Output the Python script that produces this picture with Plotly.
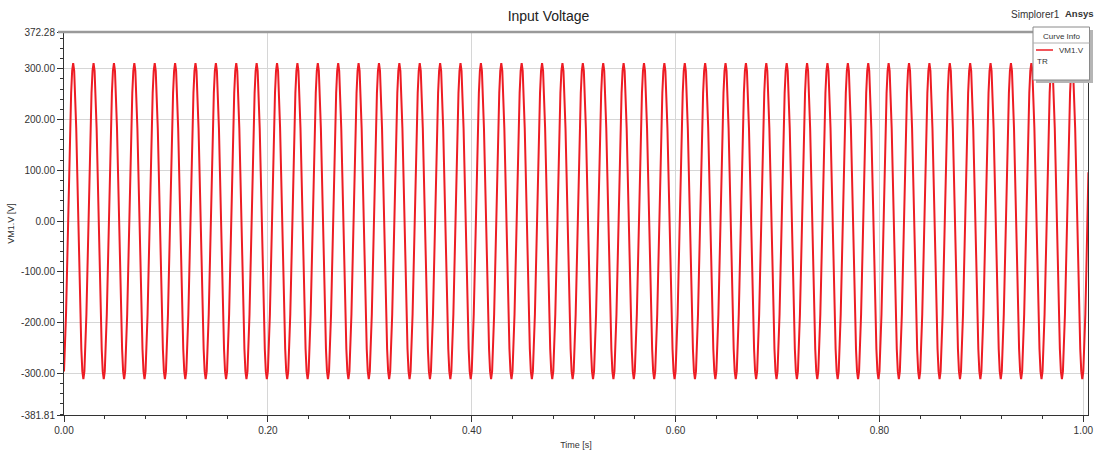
import numpy as np
import plotly.graph_objects as go

# ---- data ----
# one 20 ms cycle of VM1.V sampled every 1 ms (peak ~311 V at t≈9 ms)
cycle_values = [-296, -252, -183, -96, 0, 96, 183, 252, 296, 311,
                296, 252, 183, 96, 0, -96, -183, -252, -296, -311]
sample_step_s = 0.001
t_end_s = 1.005
y_tick_vals = [-381.81, -300, -200, -100, 0, 100, 200, 300, 372.28]
y_tick_text = ["-381.81", "-300.00", "-200.00", "-100.00", "0.00",
               "100.00", "200.00", "300.00", "372.28"]
x_tick_vals = [0.0, 0.2, 0.4, 0.6, 0.8, 1.0]
x_tick_text = ["0.00", "0.20", "0.40", "0.60", "0.80", "1.00"]
x_range = [0.0, 1.0046]
y_range = [-381.81, 372.28]

n = int(round(t_end_s / sample_step_s)) + 1
reps = n // len(cycle_values) + 1
v = np.tile(np.array(cycle_values, dtype=float), reps)[:n]
t = np.arange(n) * sample_step_s

FONT = "Liberation Sans, Arial, sans-serif"
TXT = "#333333"

fig = go.Figure()
fig.add_trace(go.Scatter(x=t, y=v, mode="lines", name="VM1.V",
                         line=dict(color="rgb(237,28,36)", width=2),
                         showlegend=False))

# plot area pixel geometry
L, R, T, B = 64, 1088, 32, 415
W, H = R - L, B - T
def px(x):
    return (x - L) / W
def py(y):
    return (B - y) / H

shapes = [
    # top border (gray, thick)
    dict(type="line", xref="paper", yref="paper", x0=px(58), x1=1, y0=1, y1=1,
         line=dict(color="#9a9a9a", width=2.5)),
    # legend shadow
    dict(type="rect", xref="paper", yref="paper", x0=px(1036), x1=px(1093),
         y0=py(83), y1=py(30), fillcolor="#b5b5b5", line=dict(width=0)),
    # legend box
    dict(type="rect", xref="paper", yref="paper", x0=px(1033), x1=px(1089.5),
         y0=py(80), y1=py(27), fillcolor="white", line=dict(color="#8a8a8a", width=1)),
    # separator
    dict(type="line", xref="paper", yref="paper", x0=px(1033), x1=px(1089.5),
         y0=py(43), y1=py(43), line=dict(color="#b0b0b0", width=1)),
    # legend sample line
    dict(type="line", xref="paper", yref="paper", x0=px(1036), x1=px(1053),
         y0=py(50), y1=py(50), line=dict(color="rgb(237,28,36)", width=1.5)),
]

annotations = [
    dict(text="Curve Info", xref="paper", yref="paper", x=px(1061), y=py(36),
         showarrow=False, font=dict(family=FONT, size=8, color=TXT),
         xanchor="center", yanchor="middle"),
    dict(text="VM1.V", xref="paper", yref="paper", x=px(1086), y=py(50),
         showarrow=False, font=dict(family=FONT, size=8, color=TXT),
         xanchor="right", yanchor="middle"),
    dict(text="TR", xref="paper", yref="paper", x=px(1035), y=py(62),
         showarrow=False, font=dict(family=FONT, size=8, color=TXT),
         xanchor="left", yanchor="middle"),
    dict(text="Simplorer1", xref="paper", yref="paper", x=px(1035), y=py(15),
         showarrow=False, font=dict(family=FONT, size=10, color=TXT),
         xanchor="center", yanchor="middle"),
    dict(text="<b>Ansys</b>", xref="paper", yref="paper", x=px(1096), y=py(13),
         showarrow=False, font=dict(family=FONT, size=9.5, color=TXT),
         xanchor="right", yanchor="middle"),
]

fig.update_layout(
    width=1097, height=452,
    margin=dict(l=L, r=1097 - R, t=T, b=452 - B, autoexpand=False),
    paper_bgcolor="white", plot_bgcolor="white",
    title=dict(text="Input Voltage", x=0.5, xanchor="center", y=1 - 16 / 452,
               yanchor="middle", font=dict(family=FONT, size=14, color="#222222")),
    font=dict(family=FONT, size=10, color=TXT),
    shapes=shapes, annotations=annotations,
    xaxis=dict(range=x_range, tickmode="array", tickvals=x_tick_vals,
               ticktext=x_tick_text, ticks="outside", ticklen=6, tickcolor=TXT,
               showline=True, linecolor=TXT, linewidth=1, mirror=False,
               showgrid=True, gridcolor="#d6d6d6", gridwidth=1, zeroline=False,
               automargin=False,
               tickfont=dict(family=FONT, size=10, color=TXT),
               minor=dict(tickmode="linear", tick0=0, dtick=0.04, ticks="outside",
                          ticklen=3, tickcolor=TXT, showgrid=False),
               title=dict(text="Time [s]", standoff=6,
                          font=dict(family=FONT, size=9, color=TXT))),
    yaxis=dict(range=y_range, tickmode="array", tickvals=y_tick_vals,
               ticktext=y_tick_text, ticks="outside", ticklen=6, tickcolor=TXT,
               showline=True, linecolor=TXT, linewidth=1, mirror=True,
               showgrid=True, gridcolor="#d6d6d6", gridwidth=1, zeroline=False,
               automargin=False,
               tickfont=dict(family=FONT, size=10, color=TXT),
               minor=dict(tickmode="linear", tick0=0, dtick=20, ticks="outside",
                          ticklen=3, tickcolor=TXT, showgrid=False),
               title=dict(text="VM1.V [V]", standoff=4,
                          font=dict(family=FONT, size=9, color=TXT))),
)

fig.write_html("out.html")
